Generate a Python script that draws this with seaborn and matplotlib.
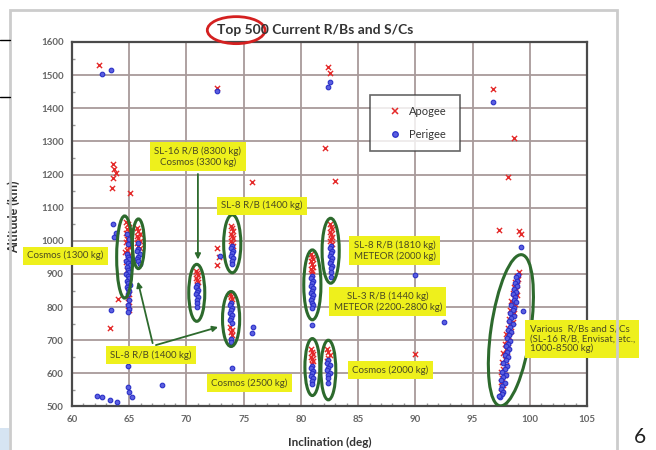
import numpy as np
import pandas as pd
import matplotlib
matplotlib.use("Agg")
import matplotlib.pyplot as plt
import seaborn as sns
from matplotlib.patches import Ellipse, Rectangle
from matplotlib.transforms import Affine2D
from matplotlib.lines import Line2D

# ---------------- data (inclination deg, altitude km) ----------------
apo_63 = [(62.4, 1532), (63.6, 1232), (63.7, 1218), (63.8, 1205), (63.6, 1190),
          (63.5, 1160), (65.1, 1145), (64.0, 823), (63.3, 737)]
peri_63 = [(62.6, 1504), (63.4, 1516), (63.6, 1050), (63.8, 1025), (63.7, 1012),
           (63.4, 792), (64.9, 622), (64.9, 559), (65.0, 544), (65.2, 529),
           (63.9, 514), (63.3, 520), (62.2, 532), (62.6, 530), (67.9, 565)]

apo_65 = [(64.7, 1058), (64.9, 1050), (65.0, 1042), (64.8, 1035), (65.1, 1030),
          (64.7, 1025), (64.9, 1018), (65.0, 1012), (64.8, 1005), (65.1, 1000),
          (64.7, 995), (64.9, 988), (65.0, 980), (64.8, 972), (64.6, 965),
          (65.0, 958), (64.9, 945), (64.7, 935), (65.0, 925), (64.8, 912),
          (64.9, 900), (65.0, 880), (64.9, 860), (65.0, 840), (64.9, 828),
          (65.0, 815), (64.9, 802), (65.0, 790)]
peri_65 = [(64.8, 960), (64.9, 952), (65.0, 946), (64.7, 940), (64.9, 933),
           (65.1, 928), (64.8, 920), (64.9, 913), (65.0, 906), (64.7, 900),
           (64.9, 893), (65.0, 887), (64.8, 880), (64.9, 874), (65.1, 868),
           (64.8, 862), (64.9, 855), (65.0, 848), (64.9, 990), (65.0, 1005),
           (64.8, 1020), (64.9, 838), (65.0, 820), (64.9, 806), (65.0, 795),
           (64.9, 785)]

apo_66 = [(65.7, 1040), (65.8, 1030), (65.9, 1022), (65.7, 1015), (65.8, 1008),
          (65.9, 1000), (65.7, 993), (65.8, 985), (65.9, 978)]
peri_66 = [(65.8, 975), (65.7, 968), (65.9, 960), (65.8, 952), (65.7, 945),
           (65.8, 938), (65.9, 930), (65.8, 992)]

apo_71 = [(70.8, 910), (70.9, 903), (71.0, 896), (70.8, 889), (70.9, 882),
          (71.0, 875), (70.9, 868)]
peri_71 = [(70.9, 868), (70.8, 860), (71.0, 852), (70.9, 845), (70.8, 838),
           (71.0, 830), (70.9, 822), (70.9, 812), (70.9, 800)]

apo_74 = [(73.9, 1045), (74.0, 1038), (74.1, 1030), (73.9, 1022), (74.0, 1015),
          (74.1, 1008), (73.9, 1000), (74.0, 993), (74.1, 985),
          (72.7, 978), (72.8, 950), (72.7, 928), (72.7, 1460), (75.7, 1176),
          (73.8, 840), (73.9, 832), (74.0, 825), (73.9, 818), (73.8, 740),
          (74.0, 732), (73.9, 725), (74.0, 715)]
peri_74 = [(74.0, 985), (73.9, 978), (74.1, 970), (74.0, 962), (73.9, 955),
           (74.1, 948), (74.0, 940), (74.0, 930), (72.9, 955), (72.7, 1453),
           (73.9, 812), (73.8, 805), (74.0, 798), (73.9, 790), (73.8, 782),
           (74.0, 775), (73.9, 768), (73.8, 760), (74.0, 752), (73.9, 705),
           (73.9, 695), (75.7, 722), (75.8, 740), (74.0, 616)]

apo_81 = [(80.9, 960), (81.0, 952), (81.1, 945), (80.9, 938), (81.0, 930),
          (81.1, 922), (80.9, 915), (81.0, 908), (81.0, 900),
          (80.9, 672), (81.0, 665), (81.1, 658), (80.9, 650), (81.0, 643),
          (81.1, 636), (81.0, 628)]
peri_81 = [(81.0, 895), (80.9, 888), (81.1, 880), (81.0, 872), (80.9, 865),
           (81.1, 858), (81.0, 850), (80.9, 842), (81.1, 835), (81.0, 827),
           (80.9, 820), (81.0, 812), (81.1, 805), (81.0, 797), (81.0, 746),
           (81.0, 622), (80.9, 615), (81.1, 607), (81.0, 600), (80.9, 592),
           (81.1, 585), (81.0, 577), (81.0, 568)]

apo_82 = [(82.5, 1050), (82.6, 1042), (82.7, 1035), (82.5, 1028), (82.6, 1020),
          (82.7, 1012), (82.6, 1005), (82.5, 998), (82.7, 990),
          (82.3, 672), (82.4, 663), (82.5, 655), (82.4, 646), (82.3, 637),
          (82.4, 1525), (82.5, 1505), (82.1, 1281), (83.0, 1180)]
peri_82 = [(82.6, 985), (82.5, 977), (82.7, 970), (82.6, 962), (82.5, 955),
           (82.7, 947), (82.6, 940), (82.5, 932), (82.7, 925), (82.6, 917),
           (82.6, 905), (82.6, 890), (82.4, 640), (82.3, 632), (82.5, 625),
           (82.4, 617), (82.3, 610), (82.5, 602), (82.4, 595), (82.4, 585),
           (82.4, 570), (82.5, 1480), (82.4, 1465)]

apo_90 = [(90.0, 658)]
peri_90 = [(90.0, 897), (92.5, 755)]

apo_98 = [(99.1, 905), (98.9, 895), (99.0, 885), (98.7, 875), (98.9, 868),
          (98.6, 860), (98.8, 852), (98.5, 843), (98.9, 835), (98.6, 826),
          (98.4, 818), (98.7, 810), (98.5, 800), (98.3, 792), (98.6, 783),
          (98.4, 773), (98.2, 764), (98.5, 755), (98.3, 745), (98.1, 736),
          (98.4, 727), (97.9, 718), (98.2, 710), (98.0, 700), (97.8, 690),
          (98.1, 680), (97.9, 672), (97.7, 662), (98.0, 652), (97.8, 642),
          (97.6, 633), (97.9, 624), (97.7, 614), (97.5, 604), (97.8, 595),
          (97.6, 585), (97.5, 575), (97.7, 565), (97.6, 555), (97.5, 545),
          (98.1, 1193), (97.3, 1034), (99.1, 1030), (99.2, 1020), (96.8, 1459),
          (98.6, 1311)]
peri_98 = [(99.2, 982), (99.0, 898), (98.8, 890), (98.9, 880), (98.7, 872),
           (98.9, 863), (98.6, 855), (98.8, 847), (98.5, 838), (98.7, 830),
           (98.6, 822), (98.8, 815), (98.4, 807), (98.6, 798), (98.5, 790),
           (98.3, 782), (98.6, 774), (98.4, 766), (98.2, 757), (98.5, 749),
           (98.3, 740), (98.1, 732), (98.4, 724), (98.2, 715), (98.0, 707),
           (98.3, 698), (98.1, 690), (97.9, 682), (98.2, 673), (98.0, 665),
           (97.8, 656), (98.1, 648), (97.9, 640), (97.7, 631), (98.0, 622),
           (97.8, 613), (97.6, 605), (97.9, 596), (97.7, 588), (97.5, 579),
           (97.8, 570), (97.6, 562), (97.5, 553), (97.7, 545), (97.6, 537),
           (97.4, 528), (97.3, 532), (96.8, 1420), (99.4, 789)]

x_ticks = [60, 65, 70, 75, 80, 85, 90, 95, 100, 105]
y_ticks = [500, 600, 700, 800, 900, 1000, 1100, 1200, 1300, 1400, 1500, 1600]
series_names = ["Apogee", "Perigee"]
title_text = "Top 500 Current R/Bs and S/Cs"
x_label = "Inclination (deg)"
y_label = "Altitude (km)"

# annotation boxes: (text, inc, alt, ha)
box_labels = [
    ("SL-16 R/B (8300 kg)\nCosmos (3300 kg)", 71.0, 1254, "center"),
    ("SL-8 R/B (1400 kg)", 76.6, 1106, "center"),
    ("Cosmos (1300 kg)", 59.4, 955, "center"),
    ("SL-8 R/B (1400 kg)", 66.9, 656, "center"),
    ("Cosmos (2500 kg)", 75.5, 571, "center"),
    ("SL-8 R/B (1810 kg)\nMETEOR (2000 kg)", 88.2, 970, "center"),
    ("SL-3 R/B (1440 kg)\nMETEOR (2200-2800 kg)", 87.6, 816, "center"),
    ("Cosmos (2000 kg)", 87.8, 610, "center"),
    ("Various  R/Bs and S/Cs\n(SL-16 R/B, Envisat, etc.,\n1000-8500 kg)", 100.0, 704, "left"),
]

# cluster ellipses: (center inc, center alt, width deg, height km)
cluster_rings = [
    (64.6, 951, 1.4, 248), (65.8, 991, 1.05, 150), (74.0, 991, 1.5, 175),
    (70.9, 843, 1.4, 172), (73.9, 764, 1.5, 166), (81.0, 867, 1.5, 211),
    (82.6, 970, 1.5, 196), (81.0, 619, 1.3, 172), (82.4, 610, 1.3, 180),
]

# ---------------- build frames ----------------
apo_all = apo_63 + apo_65 + apo_66 + apo_71 + apo_74 + apo_81 + apo_82 + apo_90 + apo_98
peri_all = peri_63 + peri_65 + peri_66 + peri_71 + peri_74 + peri_81 + peri_82 + peri_90 + peri_98
apo_df = pd.DataFrame(apo_all, columns=["inc", "alt"])
peri_df = pd.DataFrame(peri_all, columns=["inc", "alt"])

sns.set_theme(style="white")
plt.rcParams["font.family"] = ["Lato", "DejaVu Sans"]

fig = plt.figure(figsize=(6.56, 4.5), dpi=100)
ax = fig.add_axes([0.1098, 0.0967, 0.785, 0.81])

RED = "#e42a2a"
BLUE_E = "#2a30c8"
BLUE_F = "#5b5fe0"
GREEN = "#2d6a2d"
YELLOW = "#eef01c"
TXT = "#4a4a22"

sns.scatterplot(data=apo_df, x="inc", y="alt", marker="x", color=RED, s=14,
                linewidth=1.0, ax=ax, zorder=3)
sns.scatterplot(data=peri_df, x="inc", y="alt", marker="o", s=11,
                facecolor=BLUE_F, edgecolor=BLUE_E, linewidth=0.8, ax=ax, zorder=4)

ax.set_xlim(60, 105)
ax.set_ylim(500, 1600)
ax.set_xticks(x_ticks)
ax.set_yticks(y_ticks)
ax.set_xticks(np.arange(60, 106, 1), minor=True)
ax.set_yticks(np.arange(500, 1601, 50), minor=True)
ax.grid(True, which="major", color="#a89a9a", linewidth=1.3)
ax.set_axisbelow(True)
for sp in ax.spines.values():
    sp.set_color("#4a4a4a")
    sp.set_linewidth(1.6)
ax.tick_params(axis="both", which="major", labelsize=7, labelcolor="#666666",
               length=3, direction="in", color="#888888", pad=6)
ax.tick_params(axis="both", which="minor", length=2.5, direction="in",
               color="#999999", bottom=True, left=True)
for lab in ax.get_xticklabels() + ax.get_yticklabels():
    lab.set_fontweight("bold")

ax.set_xlabel(x_label, fontsize=8.5, fontweight="bold", color="#333333")
ax.set_ylabel(y_label, fontsize=9, fontweight="bold", color="#333333")
ax.xaxis.set_label_coords(0.5, -0.083)
ax.yaxis.set_label_coords(-0.101, 0.52)

# legend
handles = [Line2D([], [], marker="x", linestyle="none", color=RED, markersize=4.5, markeredgewidth=1.1),
           Line2D([], [], marker="o", linestyle="none", markerfacecolor=BLUE_F,
                  markeredgecolor=BLUE_E, markersize=4, markeredgewidth=0.9)]
leg = ax.legend(handles, series_names, loc="upper left",
                bbox_to_anchor=(0.579, 0.712, 0.174, 0.143), mode="expand",
                fontsize=8, frameon=True, fancybox=False, edgecolor="#404040",
                borderpad=1.0, labelspacing=1.1, handletextpad=0.1, handlelength=2.4,
                borderaxespad=0)
leg.get_frame().set_linewidth(1.2)
for t in leg.get_texts():
    t.set_color("#333333")

# cluster rings
for cx, cy, w, h in cluster_rings:
    ax.add_patch(Ellipse((cx, cy), w, h, fill=False, edgecolor=GREEN, linewidth=2.2, zorder=5))
# tilted ring around the 98 deg band (unit circle mapped into data space)
tilt = Affine2D(np.array([[0.96, 1.72, 98.35], [228.0, -8.8, 730.0], [0, 0, 1]]))
ax.add_patch(Ellipse((0, 0), 2, 2, fill=False, edgecolor=GREEN, linewidth=2.2,
                     transform=tilt + ax.transData, zorder=5))

# arrows
arrow_kw = dict(arrowstyle="-|>", color=GREEN, lw=1.3, mutation_scale=8)
ax.annotate("", xy=(71.0, 935), xytext=(71.0, 1210), arrowprops=arrow_kw, zorder=6)
ax.annotate("", xy=(65.7, 885), xytext=(67.1, 683), arrowprops=arrow_kw, zorder=6)
ax.annotate("", xy=(73.0, 742), xytext=(67.1, 683), arrowprops=arrow_kw, zorder=6)

# yellow boxes
for txt, bx, by, ha in box_labels:
    ax.text(bx, by, txt, ha=ha, va="center", fontsize=7, color=TXT,
            linespacing=1.1, zorder=8, clip_on=False,
            bbox=dict(boxstyle="square,pad=0.45", fc=YELLOW, ec="none"))

# title with red ring
fig.text(0.48, 0.933, title_text, ha="center", va="center", fontsize=10,
         fontweight="bold", color="#333333")
fig.patches.append(Ellipse((0.36, 0.933), 0.088, 0.06, transform=fig.transFigure,
                           fill=False, edgecolor="#d42020", linewidth=2.0))

# slide frame decorations
fig.patches.append(Rectangle((10 / 656, -0.01), 607 / 656, 1 - 10 / 450 + 0.01,
                             transform=fig.transFigure, fill=False,
                             edgecolor="#cccccc", linewidth=2.0))
fig.patches.append(Rectangle((0, 0), 9 / 656, 22 / 450, transform=fig.transFigure,
                             facecolor="#d6e4f2", edgecolor="none"))
fig.add_artist(Line2D([0, 10 / 656], [1 - 40 / 450] * 2, color="black", lw=1,
                      transform=fig.transFigure))
fig.add_artist(Line2D([0, 10 / 656], [1 - 97 / 450] * 2, color="black", lw=1,
                      transform=fig.transFigure))
fig.text(640 / 656, 1 - 437 / 450, "6", ha="center", va="center", fontsize=15,
         color="#222222")

fig.savefig("out.png", dpi=100)
